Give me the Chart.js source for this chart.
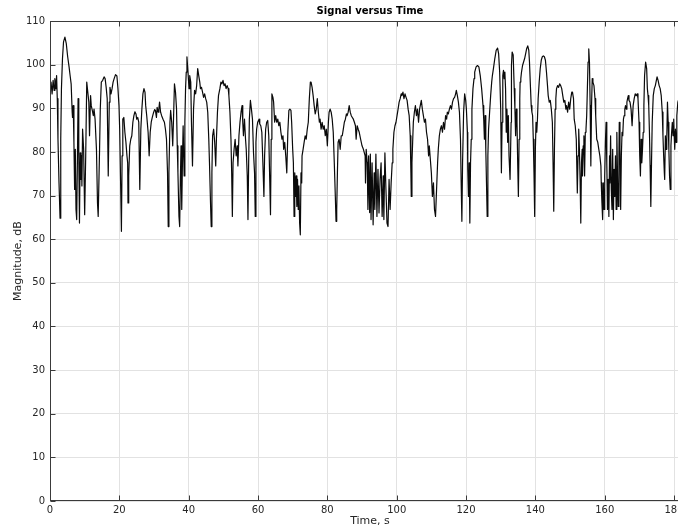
<!DOCTYPE html>
<html>
<head>
<meta charset="utf-8">
<script src="https://cdn.jsdelivr.net/npm/chart.js@4/dist/chart.umd.min.js"></script>
<style>
  html, body { margin: 0; padding: 0; background: #fff; overflow: hidden; }
  #wrap { width: 700px; height: 530px; }
</style>
</head>
<body>
<div id="wrap"><canvas id="signal" width="700" height="530"></canvas></div>
<script>
// Recorded magnitude (dB) against time (s), stored in 30-second blocks.
const time0to30 = [
  0.0,0.3,0.6,0.9,1.2,1.4,1.7,1.9,2.1,2.3,
  2.6,2.9,3.1,3.3,3.6,3.9,4.3,4.7,5.1,5.5,
  5.8,6.1,6.4,6.5,6.7,6.9,7.1,7.3,7.5,7.7,
  7.9,8.1,8.3,8.5,8.7,8.9,9.1,9.2,9.4,9.7,
  10.0,10.3,10.6,10.9,11.2,11.4,11.7,11.9,12.2,12.5,
  12.7,13.0,13.4,13.7,13.9,14.3,14.5,14.8,15.2,15.6,
  15.9,16.2,16.5,16.8,17.1,17.3,17.6,17.9,18.2,18.5,
  18.9,19.3,19.6,19.9,20.1,20.4,20.6,20.8,21.0,21.3,
  21.6,21.9,22.2,22.4,22.5,22.7,23.0,23.3,23.6,23.9,
  24.2,24.5,24.8,25.0,25.3,25.6,25.9,26.2,26.5,26.8,
  27.1,27.4,27.6,27.9,28.3,28.6,28.9,29.2,29.5,29.9
];
const level0to30 = [
  94.5,96.0,93.3,96.4,94.1,96.8,94.5,97.5,92.2,82.9,
  72.9,64.8,82.9,94.5,101.4,105.2,106.3,104.8,101.8,99.5,
  97.5,95.6,89.1,87.9,90.6,82.2,71.4,80.6,66.8,64.5,
  77.5,92.2,79.1,63.7,79.8,73.7,79.1,72.2,85.2,80.6,
  65.6,79.1,96.0,93.7,91.4,83.7,92.9,90.6,89.5,88.3,
  89.8,87.5,80.6,68.3,65.2,80.6,89.8,96.0,96.4,97.2,
  96.8,94.8,92.2,74.5,91.4,94.8,93.3,94.5,96.0,96.8,
  97.7,97.4,94.5,90.6,85.2,71.4,61.8,79.1,87.5,87.9,
  84.5,82.2,79.1,77.5,68.3,74.5,81.4,82.9,83.7,86.8,
  88.3,89.2,88.7,87.5,87.9,86.8,71.4,85.2,89.8,93.3,
  94.5,93.7,90.6,88.3,84.5,79.1,84.5,86.8,87.9,89.1
];

const time30to60 = [
  30.2,30.4,30.7,30.9,31.2,31.4,31.6,31.9,32.2,32.6,
  33.0,33.3,33.6,33.9,34.1,34.3,34.6,34.8,35.1,35.4,
  35.6,35.9,36.2,36.5,36.7,36.9,37.2,37.4,37.6,37.8,
  38.0,38.2,38.4,38.7,38.9,39.1,39.3,39.5,39.8,40.1,
  40.3,40.6,40.8,41.1,41.4,41.7,42.0,42.3,42.6,42.9,
  43.2,43.4,43.7,44.0,44.3,44.6,44.9,45.2,45.5,45.8,
  46.0,46.3,46.5,46.7,46.9,47.2,47.5,47.8,48.0,48.3,
  48.6,49.0,49.3,49.6,49.9,50.2,50.5,50.8,51.1,51.4,
  51.6,51.9,52.2,52.4,52.6,52.8,53.1,53.4,53.7,54.0,
  54.2,54.5,54.8,55.1,55.4,55.6,55.8,56.1,56.4,56.6,
  56.9,57.1,57.3,57.5,57.8,58.1,58.4,58.7,59.0,59.2,
  59.4,59.6,59.9
];
const level30to60 = [
  89.7,89.5,87.9,90.2,89.1,89.8,91.4,89.1,88.3,87.5,
  86.8,85.2,82.9,75.2,62.9,75.2,86.8,89.5,86.8,81.4,
  86.8,95.6,93.7,89.8,81.4,75.2,65.2,62.9,73.7,81.4,
  66.8,77.5,86.0,74.5,86.8,94.5,98.3,101.8,98.3,94.5,
  97.5,96.0,86.8,76.8,89.8,94.1,93.3,95.2,99.1,97.5,
  96.0,94.5,94.8,93.7,92.5,93.3,92.2,91.4,89.1,82.9,
  77.5,68.3,62.9,75.2,83.7,85.2,82.2,76.8,82.9,89.1,
  92.9,94.5,96.0,95.6,96.4,95.2,95.6,94.5,95.2,94.5,
  92.9,89.1,82.9,75.2,65.2,77.5,80.6,82.9,79.1,81.4,
  76.8,83.7,86.8,89.1,90.6,86.8,83.7,87.5,82.9,80.6,
  74.5,64.5,77.5,87.5,91.8,89.8,87.5,79.8,75.2,65.2,
  82.2,85.2,86.8
];

const time60to90 = [
  60.3,60.5,60.8,61.1,61.4,61.7,61.9,62.2,62.5,62.8,
  63.1,63.4,63.6,63.8,64.0,64.3,64.5,64.8,65.1,65.4,
  65.7,66.0,66.3,66.6,66.9,67.2,67.4,67.7,68.0,68.3,
  68.6,68.9,69.2,69.5,69.7,70.0,70.2,70.4,70.6,70.8,
  71.0,71.2,71.4,71.6,71.8,72.0,72.2,72.4,72.6,72.7,
  73.0,73.3,73.6,73.9,74.2,74.5,74.8,75.1,75.3,75.6,
  75.9,76.2,76.5,76.8,77.1,77.4,77.7,77.9,78.2,78.5,
  78.8,79.1,79.4,79.7,80.0,80.3,80.5,80.8,81.1,81.4,
  81.7,82.0,82.3,82.5,82.7,82.9,83.1,83.4,83.7,84.0,
  84.3,84.6,84.9,85.2,85.5,85.7,86.0,86.3,86.6,86.9,
  87.2,87.5,87.8,88.1,88.3,88.6,88.9,89.2,89.6,90.0,
  90.4
];
const level60to90 = [
  87.5,86.4,86.0,84.5,77.5,69.8,79.1,85.2,86.8,87.2,
  83.7,72.9,65.6,82.9,93.3,92.5,91.4,86.8,88.3,86.8,
  87.5,86.0,86.8,84.5,82.9,83.7,80.6,82.2,79.1,75.2,
  84.5,89.5,89.8,89.5,86.8,80.6,77.5,65.2,75.2,69.8,
  74.5,67.5,73.7,66.8,72.2,63.7,61.0,75.2,72.9,79.1,
  80.6,82.2,83.7,82.9,85.2,86.8,92.2,96.0,96.0,94.8,
  92.9,90.6,88.7,89.8,92.2,89.1,86.8,87.5,85.2,86.8,
  85.2,86.0,83.7,85.2,81.4,86.8,89.1,89.8,89.1,87.5,
  84.5,77.5,69.8,64.1,66.8,75.2,82.2,82.9,80.6,83.7,
  83.7,85.2,86.8,87.5,88.7,88.3,89.1,90.6,89.1,88.3,
  87.9,87.5,86.8,86.0,82.9,86.0,85.2,84.5,82.9,81.4,
  80.6
];

const time90to120 = [
  90.9,91.0,91.2,91.5,91.7,91.9,92.2,92.4,92.6,92.9,
  93.2,93.5,93.7,94.0,94.3,94.6,94.9,95.2,95.5,95.8,
  96.1,96.3,96.6,96.9,97.2,97.5,97.8,98.1,98.4,98.7,
  98.9,99.2,99.5,99.8,100.1,100.4,100.7,101.0,101.3,101.5,
  101.8,102.1,102.4,102.7,103.0,103.3,103.6,103.9,104.1,104.2,
  104.4,104.6,104.8,105.1,105.4,105.7,106.0,106.3,106.6,106.8,
  107.1,107.4,107.7,108.0,108.3,108.6,108.9,109.2,109.4,109.7,
  110.0,110.3,110.6,110.9,111.2,111.5,111.8,112.0,112.3,112.6,
  112.9,113.2,113.5,113.8,114.1,114.4,114.6,114.9,115.2,115.5,
  115.8,116.1,116.4,116.7,117.0,117.2,117.5,117.8,118.1,118.4,
  118.6,118.8,119.0,119.3,119.6,119.9,120.1,120.4
];
const level90to120 = [
  79.1,72.9,80.6,77.5,66.8,79.1,66.1,79.5,64.5,77.5,
  63.3,75.2,66.8,79.5,65.2,76.0,66.0,73.7,77.5,65.2,
  74.5,64.5,79.8,71.4,63.7,62.9,73.7,66.8,72.9,77.5,
  80.6,84.5,86.0,86.8,88.3,89.8,91.4,92.2,93.3,92.9,
  93.7,92.2,93.3,92.5,91.8,89.8,88.3,83.7,75.2,69.8,
  77.5,82.2,86.8,89.1,90.6,88.3,89.8,86.8,89.8,90.6,
  91.8,89.8,88.3,86.8,87.5,84.5,82.9,79.1,81.4,78.3,
  75.2,69.8,72.9,66.8,65.2,71.4,77.5,80.6,83.7,85.2,
  86.0,84.5,86.8,85.2,88.3,87.5,89.1,88.7,89.8,90.6,
  89.8,91.4,92.2,92.5,93.3,94.1,92.9,91.4,89.1,82.9,
  72.9,64.1,77.5,89.1,93.3,91.8,89.8,84.5
];

const time120to150 = [
  120.5,120.7,120.9,121.1,121.3,121.5,121.7,122.0,122.3,122.5,
  122.9,123.3,123.7,124.1,124.5,124.9,125.1,125.3,125.5,125.7,
  125.9,126.1,126.3,126.5,126.8,127.1,127.4,127.6,127.9,128.3,
  128.7,129.1,129.4,129.7,130.0,130.2,130.4,130.6,130.8,131.0,
  131.2,131.4,131.6,131.8,132.0,132.2,132.4,132.7,133.0,133.1,
  133.3,133.6,133.9,134.1,134.3,134.5,134.7,134.9,135.1,135.3,
  135.5,135.6,135.8,136.0,136.3,136.6,136.9,137.2,137.5,137.8,
  138.1,138.3,138.6,138.8,139.0,139.2,139.4,139.6,139.8,140.0,
  140.2,140.4,140.6,140.8,141.1,141.4,141.7,142.0,142.3,142.6,
  142.9,143.2,143.5,143.7,144.0,144.3,144.6,144.9,145.1,145.3,
  145.5,145.7,145.9,146.1,146.4,146.7,147.0,147.3,147.6,147.9,
  148.2,148.5,148.8,149.0,149.3,149.6,149.9,150.2,150.5
];
const level120to150 = [
  76.0,69.8,77.5,63.7,77.5,82.9,89.8,94.5,96.8,98.3,
  99.5,99.8,99.5,97.5,94.5,90.6,87.5,82.9,88.3,80.6,
  72.9,65.2,79.1,85.2,89.1,92.9,96.0,97.5,99.1,101.4,
  103.3,103.8,102.5,98.3,89.8,75.2,86.8,97.5,98.7,96.8,
  98.3,94.5,84.5,89.8,82.2,88.3,79.1,73.7,86.8,99.8,
  102.9,102.2,94.5,89.8,83.7,89.8,86.8,77.5,69.8,82.9,
  92.2,96.0,96.8,98.3,99.8,100.6,101.4,102.5,103.7,104.3,
  103.3,100.6,94.5,90.6,89.1,88.3,82.9,75.2,65.2,80.6,
  86.8,84.5,87.5,92.2,96.0,99.1,101.0,101.8,102.0,101.8,
  101.0,98.3,95.2,92.9,91.4,91.8,89.8,86.8,77.5,66.4,
  80.6,89.8,92.2,94.5,95.2,94.8,95.6,95.2,94.5,92.9,
  91.4,91.8,89.8,90.6,89.1,91.4,89.8,92.2,93.7
];

const time150to182 = [
  150.7,151.0,151.2,151.5,151.8,152.1,152.3,152.5,152.7,152.9,
  153.1,153.3,153.5,153.6,153.8,154.0,154.2,154.4,154.6,154.8,
  155.0,155.2,155.4,155.6,155.8,156.0,156.2,156.4,156.6,156.9,
  157.2,157.4,157.7,158.0,158.3,158.6,158.9,159.0,159.2,159.4,
  159.6,159.8,160.0,160.2,160.4,160.6,160.8,161.0,161.2,161.4,
  161.5,161.7,161.9,162.1,162.3,162.5,162.7,162.9,163.1,163.3,
  163.5,163.7,163.9,164.1,164.2,164.4,164.6,164.8,165.0,165.2,
  165.4,165.6,165.8,166.0,166.2,166.4,166.6,166.8,167.0,167.3,
  167.6,167.9,168.2,168.5,168.8,169.1,169.4,169.6,169.9,170.1,
  170.3,170.5,170.7,170.9,171.1,171.3,171.5,171.8,172.1,172.3,
  172.5,172.7,172.9,173.1,173.3,173.5,173.7,174.0,174.3,174.6,
  174.8,175.1,175.4,175.7,176.0,176.3,176.6,176.8,177.0,177.2,
  177.3,177.5,177.7,177.9,178.1,178.3,178.5,178.7,178.9,179.1,
  179.3,179.5,179.7,179.9,180.0,180.2,180.4,180.6,180.8,181.1,
  181.4
];
const level150to182 = [
  93.7,92.2,87.5,86.0,82.9,70.6,79.1,85.2,80.6,73.7,
  63.7,77.5,80.6,74.5,81.4,83.7,74.5,84.5,85.2,88.3,
  94.5,100.6,103.6,100.6,90.6,76.8,90.6,96.8,96.0,95.2,
  92.2,88.3,82.9,82.2,80.6,79.1,76.8,72.9,68.3,64.5,
  72.9,66.8,74.5,82.2,86.8,77.5,66.8,73.7,65.2,79.1,
  72.9,83.7,71.4,66.8,80.6,64.5,76.0,69.8,79.1,66.8,
  84.5,74.5,67.5,79.1,86.8,80.6,66.8,79.1,84.5,83.7,
  87.5,88.3,89.8,90.6,89.8,91.4,92.2,92.9,91.8,91.4,
  89.8,86.0,90.6,92.2,93.3,92.9,93.3,92.2,86.8,79.1,
  74.5,82.9,77.5,80.6,84.5,90.6,97.5,100.6,99.1,94.5,
  92.9,90.6,84.5,76.8,67.5,77.5,86.8,92.9,94.5,95.2,
  96.0,97.2,96.4,95.2,94.5,92.9,89.1,83.7,79.1,75.2,
  73.7,83.7,80.6,82.9,91.4,86.8,80.6,74.5,71.4,81.4,
  84.5,86.8,83.7,87.5,84.5,80.6,85.2,82.2,88.3,91.4,
  92.2
];

// Axis ticks
const timeTicks = [0, 20, 40, 60, 80, 100, 120, 140, 160, 180];
const magnitudeTicks = [0, 10, 20, 30, 40, 50, 60, 70, 80, 90, 100, 110];

const blocks = [
  [time0to30, level0to30],
  [time30to60, level30to60],
  [time60to90, level60to90],
  [time90to120, level90to120],
  [time120to150, level120to150],
  [time150to182, level150to182]
];
const samples = [];
blocks.forEach(([ts, vs]) => ts.forEach((t, i) => samples.push({ x: t, y: vs[i] })));

const FONT = 'DejaVu Sans';

// Boxed axes with inward tick marks on all four sides
const axesBox = {
  id: 'axesBox',
  afterDatasetsDraw(chart) {
    const { ctx, chartArea: a, scales: { x, y } } = chart;
    const L = Math.round(a.left) + 0.5, R = Math.round(a.right) - 0.5;
    const T = Math.round(a.top) + 0.5, B = Math.round(a.bottom) - 0.5;
    const len = 5;
    ctx.save();
    ctx.strokeStyle = '#3a3a3a';
    ctx.lineWidth = 1;
    ctx.strokeRect(L, T, R - L, B - T);
    ctx.beginPath();
    timeTicks.forEach(v => {
      const px = Math.round(x.getPixelForValue(v)) + 0.5;
      ctx.moveTo(px, B); ctx.lineTo(px, B - len);
      ctx.moveTo(px, T); ctx.lineTo(px, T + len);
    });
    magnitudeTicks.forEach(v => {
      const py = Math.round(y.getPixelForValue(v)) + 0.5;
      ctx.moveTo(L, py); ctx.lineTo(L + len, py);
      ctx.moveTo(R, py); ctx.lineTo(R - len, py);
    });
    ctx.stroke();
    ctx.restore();
  }
};

new Chart(document.getElementById('signal'), {
  type: 'line',
  data: {
    datasets: [{
      data: samples,
      borderColor: '#0a0a0a',
      borderWidth: 1.2,
      borderJoinStyle: 'round',
      pointRadius: 0,
      tension: 0,
      fill: false
    }]
  },
  options: {
    responsive: false,
    animation: false,
    devicePixelRatio: 1,
    layout: { padding: { left: 0, right: 10, top: 0, bottom: 0 } },
    plugins: {
      legend: { display: false },
      tooltip: { enabled: false },
      title: {
        display: true,
        text: 'Signal versus Time',
        fullSize: false,
        color: '#000',
        font: { family: FONT, size: 10, weight: 'bold' },
        padding: { top: 5, bottom: 4 }
      }
    },
    scales: {
      x: {
        type: 'linear',
        min: 0,
        max: 184.6,
        afterBuildTicks: s => { s.ticks = timeTicks.map(v => ({ value: v })); },
        afterFit: s => { s.height = 29; },
        grid: { color: '#e2e2e2', lineWidth: 1, drawTicks: false },
        border: { display: false },
        ticks: { padding: 3, color: '#262626', font: { family: FONT, size: 10 }, maxRotation: 0, autoSkip: false },
        title: { display: true, text: 'Time, s', color: '#262626', font: { family: FONT, size: 11 }, padding: { top: 0, bottom: 2 } }
      },
      y: {
        min: 0,
        max: 110,
        afterBuildTicks: s => { s.ticks = magnitudeTicks.map(v => ({ value: v })); },
        afterFit: s => { s.width = 50; },
        grid: { color: '#e2e2e2', lineWidth: 1, drawTicks: false },
        border: { display: false },
        ticks: { padding: 5, color: '#262626', font: { family: FONT, size: 10 }, autoSkip: false },
        title: { display: true, text: 'Magnitude, dB', color: '#262626', font: { family: FONT, size: 11 }, padding: { top: 12, bottom: 0 } }
      }
    }
  },
  plugins: [axesBox]
});
</script>
</body>
</html>
